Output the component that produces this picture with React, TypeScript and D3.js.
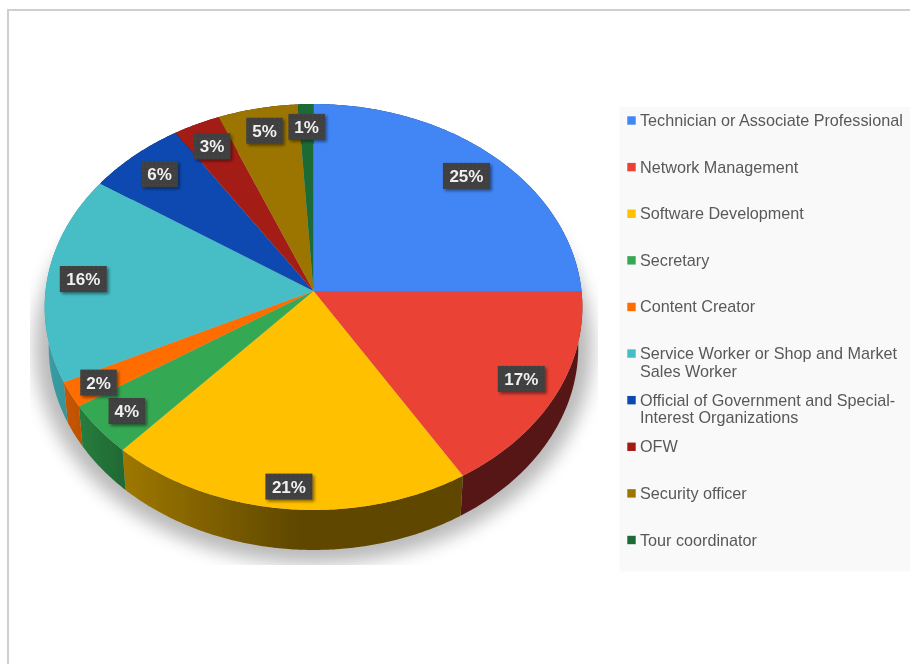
import * as d3 from "d3";

const categories = [
  "Technician or Associate Professional",
  "Network Management",
  "Software Development",
  "Secretary",
  "Content Creator",
  "Service Worker or Shop and Market Sales Worker",
  "Official of Government and Special-Interest Organizations",
  "OFW",
  "Security officer",
  "Tour coordinator",
];
const shares = [25, 16.3, 20.4, 4.1, 2, 16.6, 6.35, 3.05, 5.2, 1];
const percentLabels = ["25%", "17%", "21%", "4%", "2%", "16%", "6%", "3%", "5%", "1%"];
const colors = [
  "#4285f4", "#ea4335", "#ffc000", "#34a853", "#ff6d01",
  "#46bdc6", "#0b48b0", "#a31c12", "#9c7500", "#1c6b36",
];

// how far out along each slice its label sits
const labelRadius = [0.845, 0.86, 0.905, 0.875, 0.89, 0.865, 0.855, 0.86, 0.87, 0.87];

const width = 910;
const height = 664;
const cx = 313.5;
const cy = 291;
const rx = 268;
const ry = 201.7;
const tilt = 0.0788; // perspective: near edge of the disc looks bigger
const depth = 40;
const shrink = 0.985;

const font = "'Liberation Sans', Arial, sans-serif";

// disc coordinates -> screen
function project(angle: number, r: number): [number, number] {
  const u = Math.sin(angle) * r;
  const v = -Math.cos(angle) * r;
  const w = 1 - tilt * v;
  return [cx + (rx * u) / w, cy + (ry * v) / w];
}

function projectLow(angle: number): [number, number] {
  const [x, y] = project(angle, 1);
  return [cx + (x - cx) * shrink, y + depth];
}

function arcAngles(a0: number, a1: number) {
  const n = Math.max(2, Math.ceil((a1 - a0) / 0.01));
  return d3.range(n + 1).map((i) => a0 + ((a1 - a0) * i) / n);
}

const pathLine = d3.line<[number, number]>();

const wallLight = d3
  .scaleLinear()
  .domain([45, 125, 300, 590])
  .range([0.84, 0.62, 0.37, 0.37]);

function dim(color: string, k: number) {
  const c = d3.rgb(color);
  return d3.rgb(c.r * k, c.g * k, c.b * k).formatHex();
}

function wrapLegend(label: string) {
  if (label.startsWith("Service Worker")) return ["Service Worker or Shop and Market", "Sales Worker"];
  if (label.startsWith("Official")) return ["Official of Government and Special-", "Interest Organizations"];
  return [label];
}

const slices = d3.pie<number>().sort(null)(shares);

const legendY = d3.scalePoint<string>().domain(categories).range([120.5, 540]);

const lowEllipse = arcAngles(0, Math.PI * 2).map(projectLow);

export default function App() {
  return (
    <div style={{ position: "absolute", left: 0, top: 0, width, height, background: "#fff" }}>
      <svg width={width} height={height} viewBox={`0 0 ${width} ${height}`} style={{ display: "block" }}>
        <defs>
          <filter id="soft" x="-30%" y="-30%" width="160%" height="160%">
            <feGaussianBlur stdDeviation="9" />
          </filter>
          <filter id="edge" x="-5%" y="-5%" width="110%" height="110%">
            <feGaussianBlur stdDeviation="0.4" />
          </filter>
          <filter id="boxShadow" x="-30%" y="-30%" width="170%" height="170%">
            <feGaussianBlur in="SourceAlpha" stdDeviation="1.8" />
            <feOffset dx="1.5" dy="2" />
            <feComponentTransfer>
              <feFuncA type="linear" slope="0.45" />
            </feComponentTransfer>
            <feMerge>
              <feMergeNode />
              <feMergeNode in="SourceGraphic" />
            </feMerge>
          </filter>
          <pattern id="dots" width="4.5" height="4.5" patternUnits="userSpaceOnUse">
            <rect width="4.5" height="4.5" fill="#3f3f3f" />
            <rect x="1" y="1" width="1" height="1" fill="#545454" />
          </pattern>
          <clipPath id="shadowClip">
            <rect x={30} y={100} width={568} height={465} />
          </clipPath>
          {colors.map((color, i) => (
            <linearGradient
              key={i}
              id={`wall${i}`}
              gradientUnits="userSpaceOnUse"
              x1={wallLight.domain()[0]}
              x2={wallLight.domain()[3]}
              y1={0}
              y2={0}
            >
              {wallLight.domain().map((x) => (
                <stop key={x} offset={(x - 45) / (590 - 45)} stopColor={dim(color, wallLight(x))} />
              ))}
            </linearGradient>
          ))}
        </defs>

        {/* frame, only top and left show */}
        <path d={`M8,${height}V10H${width}`} fill="none" stroke="#cfcfcf" strokeWidth={2} />

        {/* drop shadow */}
        <g clipPath="url(#shadowClip)">
          <path
            d={pathLine(lowEllipse) + "Z"}
            fill="#000"
            stroke="#000"
            strokeWidth={28}
            opacity={0.27}
            filter="url(#soft)"
          />
        </g>

        <g filter="url(#edge)">
          {/* side wall */}
          {slices.map((s, i) => {
            const angles = arcAngles(s.startAngle, s.endAngle);
            const pts = [
              ...angles.map((a) => project(a, 1)),
              ...angles.slice().reverse().map(projectLow),
            ];
            return <path key={i} d={pathLine(pts) + "Z"} fill={`url(#wall${i})`} />;
          })}
          {/* top face */}
          {slices.map((s, i) => {
            const pts = [[cx, cy] as [number, number], ...arcAngles(s.startAngle, s.endAngle).map((a) => project(a, 1))];
            return <path key={i} d={pathLine(pts) + "Z"} fill={colors[i]} />;
          })}
        </g>

        {/* percent labels */}
        {slices.map((s, i) => {
          const [x, y] = project((s.startAngle + s.endAngle) / 2, labelRadius[i]);
          const w = percentLabels[i].length === 3 ? 47 : 36.5;
          return (
            <g key={i} transform={`translate(${x},${y})`}>
              <rect x={-w / 2} y={-13} width={w} height={26} fill="url(#dots)" filter="url(#boxShadow)" />
              <text
                y={6.2}
                textAnchor="middle"
                fontFamily={font}
                fontSize={17}
                fontWeight="bold"
                fill="#f0f0f0"
                filter="url(#edge)"
              >
                {percentLabels[i]}
              </text>
            </g>
          );
        })}

        {/* legend */}
        <rect x={619.5} y={107} width={width - 619.5} height={464.5} fill="#f9f9f9" />
        {categories.map((c, i) => {
          const y = legendY(c) as number;
          return (
            <g key={c}>
              <rect x={627.3} y={y - 4.2} width={8.4} height={8.4} fill={colors[i]} />
              <text fontFamily={font} fontSize={16.2} fill="#595959" filter="url(#edge)">
                {wrapLegend(c).map((line, j) => (
                  <tspan key={j} x={640} y={y + 5.5 + j * 17.7}>
                    {line}
                  </tspan>
                ))}
              </text>
            </g>
          );
        })}
      </svg>
    </div>
  );
}
